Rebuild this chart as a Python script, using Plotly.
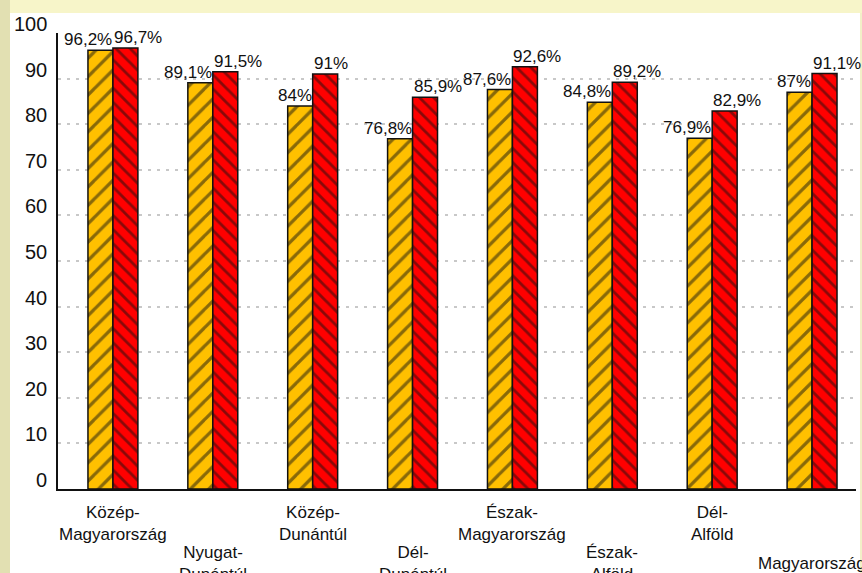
import plotly.graph_objects as go

categories = ["Közép-Magyarország", "Nyugat-Dunántúl", "Közép-Dunántúl", "Dél-Dunántúl",
              "Észak-Magyarország", "Észak-Alföld", "Dél-Alföld", "Magyarország"]
tick_labels = ["Közép-<br>Magyarország", "Nyugat-<br>Dunántúl", "Közép-<br>Dunántúl", "Dél-<br>Dunántúl",
               "Észak-<br>Magyarország", "Észak-<br>Alföld", "Dél-<br>Alföld", "Magyarország"]
series_a = [96.2, 89.1, 84.0, 76.8, 87.6, 84.8, 76.9, 87.0]
series_b = [96.7, 91.5, 91.0, 85.9, 92.6, 89.2, 82.9, 91.1]
y_ticks = [0, 10, 20, 30, 40, 50, 60, 70, 80, 90, 100]

YELLOW = "#FFC000"
RED = "#FF0000"
FONT = "Liberation Sans, Arial, sans-serif"

def fmt(v):
    s = f"{v:.1f}".rstrip("0").rstrip(".")
    return s.replace(".", ",") + "%"

fig = go.Figure()
fig.add_trace(go.Bar(
    x=categories, y=series_a, name="A",
    marker=dict(color=YELLOW, line=dict(color="#111111", width=1.5),
                pattern=dict(shape="/", fgcolor="#111111", bgcolor=YELLOW, size=13, solidity=0.25)),
))
fig.add_trace(go.Bar(
    x=categories, y=series_b, name="B",
    marker=dict(color=RED, line=dict(color="#111111", width=1.5),
                pattern=dict(shape="\\", fgcolor="#111111", bgcolor=RED, size=10, solidity=0.28)),
))

annotations = []
for c, a, b in zip(categories, series_a, series_b):
    annotations.append(dict(x=c, y=a, xref="x", yref="y", text=fmt(a), showarrow=False,
                            xanchor="right", yanchor="bottom", xshift=1, yshift=-1,
                            font=dict(family=FONT, size=17, color="#111111")))
    annotations.append(dict(x=c, y=b, xref="x", yref="y", text=fmt(b), showarrow=False,
                            xanchor="left", yanchor="bottom", xshift=-1, yshift=-1,
                            font=dict(family=FONT, size=17, color="#111111")))

for i, (c, t) in enumerate(zip(categories, tick_labels)):
    annotations.append(dict(x=c, y=0, xref="x", yref="paper", text=t, showarrow=False,
                            xanchor="center", yanchor="middle",
                            yshift=-34 if i % 2 == 0 else -74,
                            font=dict(family=FONT, size=17, color="#111111")))

for v in y_ticks:
    annotations.append(dict(x=0, y=v, xref="paper", yref="y", text=str(v), showarrow=False,
                            xanchor="right", yanchor="middle", xshift=-9, yshift=9,
                            font=dict(family=FONT, size=20, color="#111111")))

W, H = 862, 573
L, R, T, B = 58, 6, 33, 84
pw, ph = W - L - R, H - T - B
def px_x(p):
    return (p - L) / pw
def px_y(p):
    return (H - B - p) / ph

shapes = [
    dict(type="rect", xref="paper", yref="paper", x0=px_x(0), x1=px_x(10), y0=px_y(H), y1=px_y(0),
         fillcolor="#E2E0B2", line=dict(width=0), layer="below"),
    dict(type="rect", xref="paper", yref="paper", x0=px_x(10), x1=px_x(W), y0=px_y(13), y1=px_y(0),
         fillcolor="#F7F5C9", line=dict(width=0), layer="below"),
    dict(type="rect", xref="paper", yref="paper", x0=px_x(W - 2), x1=px_x(W), y0=px_y(H), y1=px_y(13),
         fillcolor="#F2F0C8", line=dict(width=0), layer="below"),
]

fig.update_layout(
    width=W, height=H,
    margin=dict(l=L, r=R, t=T, b=B, autoexpand=False),
    paper_bgcolor="white", plot_bgcolor="white",
    showlegend=False,
    barmode="group", bargap=0.5, bargroupgap=0,
    font=dict(family=FONT, size=17, color="#111111"),
    annotations=annotations, shapes=shapes,
    xaxis=dict(range=[-0.55, 7.44], showticklabels=False, ticks="", showgrid=False,
               showline=True, linecolor="#111111", linewidth=2, zeroline=False, fixedrange=True),
    yaxis=dict(range=[0, 100], tickvals=y_ticks, showticklabels=False, ticks="",
               showgrid=True, gridcolor="#C8C8C8", griddash="3px,6px", gridwidth=2,
               showline=True, linecolor="#111111", linewidth=2, zeroline=False),
)

fig.write_html("out.html")
